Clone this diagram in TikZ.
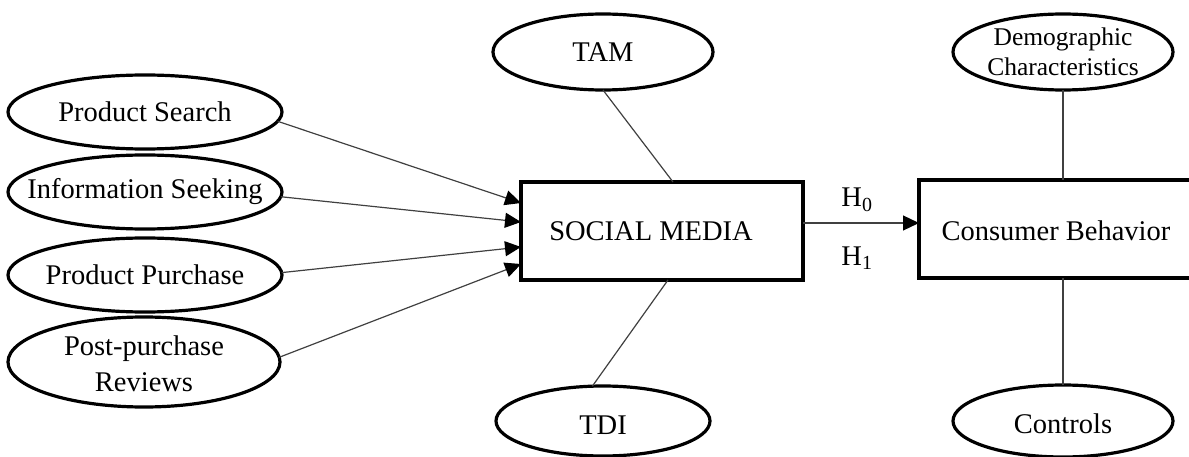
\documentclass[tikz,border=0pt]{standalone}
\usepackage{fontspec}
\setmainfont{Liberation Serif}
\usetikzlibrary{shapes.geometric,arrows.meta,calc}
\begin{document}
\begin{tikzpicture}[x=1pt,y=-1pt,
  every node/.style={font=\fontsize{28.5}{36}\selectfont},
  ell/.style={ellipse,draw,line width=3.2pt,inner sep=0pt,outer sep=0pt},
  box/.style={rectangle,draw,line width=3.2pt,inner sep=0pt,outer sep=0pt},
  link/.style={draw=black!75,line width=1.2pt},
  arr/.style={link,-{Triangle[length=16pt,width=15pt,color=black]}},
  small/.style={font=\fontsize{25.5}{30}\selectfont,align=center}
]
\useasboundingbox (0,0) rectangle (1189,457);
% left ellipses
\node[ell,minimum width=274pt,minimum height=74pt,label={center:Product Search}] (ps) at (145,112) {};
\node[ell,minimum width=274pt,minimum height=74pt,label={center:Information Seeking}] (ig) at (145,192) {};
\node[ell,minimum width=274pt,minimum height=74pt,label={center:Product Purchase}] (pp) at (145,275) {};
\node[ell,minimum width=272pt,minimum height=90pt,label={[align=center,yshift=-2pt]center:Post-purchase\\Reviews}] (pr) at (144,362) {};
% centre
\node[box,minimum width=282pt,minimum height=98pt,label={[xshift=-11pt]center:SOCIAL MEDIA}] (sm) at (662,231) {};
\node[ell,minimum width=220pt,minimum height=76pt,label={center:TAM}] (tam) at (603,52) {};
\node[ell,minimum width=214pt,minimum height=70pt,label={[yshift=-4pt]center:TDI}] (tdi) at (603,421) {};
% right
\node[box,minimum width=288pt,minimum height=98pt,label={[xshift=-7pt,yshift=-2pt]center:Consumer Behavior}] (cb) at (1063,229) {};
\node[ell,minimum width=220pt,minimum height=76pt,label={[small]center:Demographic\\Characteristics}] (dc) at (1063,52) {};
\node[ell,minimum width=220pt,minimum height=72pt,label={[yshift=-3pt]center:Controls}] (ct) at (1063,421) {};
% hypothesis labels
\node (h0) at (857,200) {H\textsubscript{0}};
\node (h1) at (857,258) {H\textsubscript{1}};
% connectors
\draw[arr] (ps.-4) -- ($(sm.west)+(0,-28)$);
\draw[arr] (ig.-2.5) -- ($(sm.west)+(0,-9)$);
\draw[arr] (pp.1) -- ($(sm.west)+(0,16)$);
\draw[arr] (pr.2) -- ($(sm.west)+(0,33)$);
\draw[link] (tam.south) -- ($(sm.north)+(11,0)$);
\draw[link] ($(sm.south)+(6,0)$) -- (tdi.107);
\draw[link] (dc.south) -- (cb.north);
\draw[link] (cb.south) -- (ct.north);
\draw[arr] ($(sm.east)+(0,-8)$) -- ($(cb.west)+(0,-6)$);
\end{tikzpicture}
\end{document}
